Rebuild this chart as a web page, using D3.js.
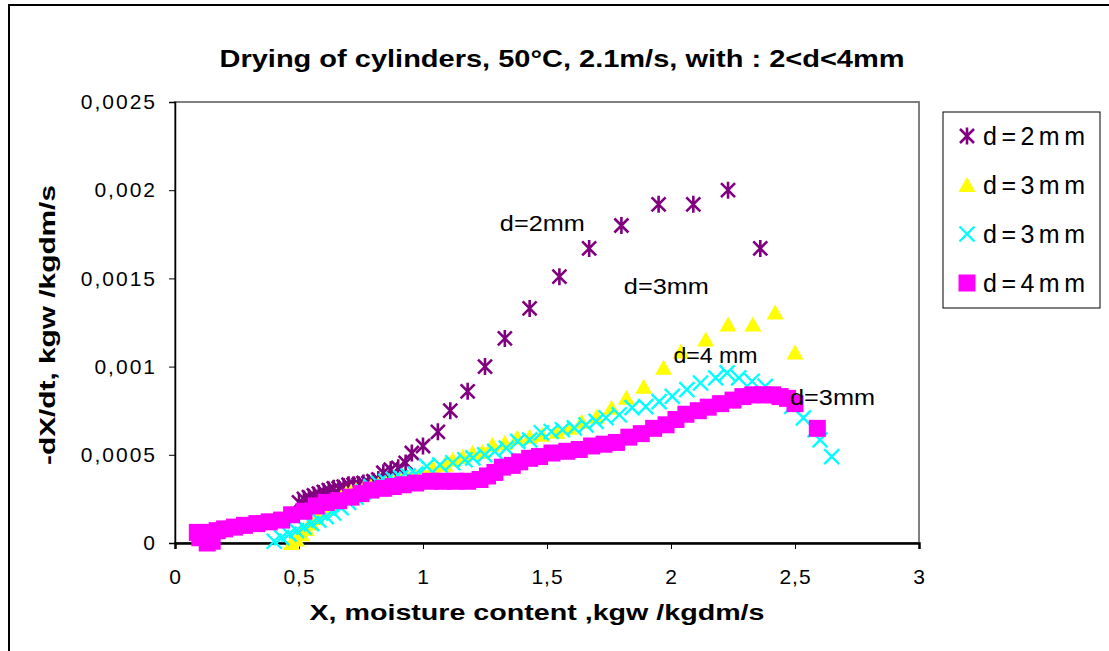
<!DOCTYPE html>
<html lang="en">
<head>
<meta charset="UTF-8">
<title>Drying of cylinders</title>
<script src="https://d3js.org/d3.v7.min.js"></script>
<style>
    body { margin: 0; background: #fff; }
    svg { display: block; font-family: "Liberation Sans", Arial, sans-serif; }
    .axis path, .axis line { stroke: #000; }
    .axis text { font-size: 21px; fill: #000; }
</style>
</head>
<body>
<svg id="chart" width="1109" height="651"></svg>
<script>
// ticks
const xTicks = [0, 0.5, 1, 1.5, 2, 2.5, 3];
const xTickLabels = ["0", "0,5", "1", "1,5", "2", "2,5", "3"];
const yTicks = [0, 0.0005, 0.001, 0.0015, 0.002, 0.0025];
const yTickLabels = ["0", "0,0005", "0,001", "0,0015", "0,002", "0,0025"];

const seriesNames = ["d=2mm", "d=3mm", "d=3mm", "d=4mm"];

// d=2mm (purple stars)
const d2X = [0.50, 0.52, 0.54, 0.56, 0.58, 0.60, 0.62, 0.64, 0.66, 0.68, 0.70, 0.72, 0.74, 0.76, 0.78, 0.80, 0.82,
             0.84, 0.87, 0.90, 0.93, 0.955, 1.00, 1.06, 1.11, 1.18, 1.25, 1.33, 1.43, 1.55, 1.67, 1.80, 1.95, 2.09, 2.23, 2.36];
const d2Y = [0.00023, 0.00025, 0.00026, 0.00027, 0.00028, 0.00029, 0.00030, 0.00031, 0.00031, 0.00032, 0.00033, 0.00033,
             0.00033, 0.00034, 0.00034, 0.00035, 0.00036, 0.000398, 0.000415, 0.000426, 0.000454, 0.00051, 0.00055, 0.00063,
             0.00075, 0.00086, 0.00100, 0.00116, 0.00133, 0.00151, 0.00167, 0.00180, 0.00192, 0.00192, 0.00200, 0.00167];

// d=3mm (yellow triangles)
const d3aX = [0.47, 0.49, 0.51, 0.53, 0.55, 0.57, 0.59, 0.61, 0.63, 0.65, 0.67, 0.69, 0.71, 0.73, 0.76, 0.79, 0.82, 0.85,
              0.88, 0.91, 0.94, 0.97, 1.00, 1.04, 1.088, 1.12, 1.16, 1.20, 1.24, 1.28, 1.33, 1.38, 1.43, 1.48, 1.54, 1.59,
              1.64, 1.70, 1.76, 1.82, 1.89, 1.97, 2.04, 2.14, 2.23, 2.33, 2.42, 2.50];
const d3aY = [0.0, 0.00002, 0.00005, 0.00008, 0.00011, 0.00014, 0.00017, 0.00020, 0.00022, 0.00024, 0.00026, 0.00028,
              0.00029, 0.00030, 0.00031, 0.00032, 0.00033, 0.00034, 0.00035, 0.00036, 0.00037, 0.00038, 0.000398, 0.000426,
              0.000443, 0.000472, 0.000489, 0.000511, 0.000517, 0.000557, 0.000568, 0.000597, 0.000602, 0.000614, 0.000631,
              0.000653, 0.000688, 0.000716, 0.000767, 0.000824, 0.000886, 0.000994, 0.001085, 0.001153, 0.001239, 0.001239,
              0.001307, 0.00108];

// d=3mm (cyan crosses)
const d3bX = [0.40, 0.43, 0.46, 0.49, 0.52, 0.55, 0.58, 0.61, 0.64, 0.67, 0.70, 0.73, 0.76, 0.79, 0.82, 0.85, 0.88, 0.91,
              0.94, 0.97, 1.015, 1.068, 1.12, 1.169, 1.201, 1.249, 1.289, 1.336, 1.382, 1.43, 1.477, 1.517, 1.562, 1.61,
              1.657, 1.698, 1.738, 1.791, 1.843, 1.898, 1.952, 2.005, 2.064, 2.119, 2.18, 2.226, 2.273, 2.327, 2.38, 2.434,
              2.487, 2.534, 2.581, 2.601, 2.648];
const d3bY = [0.00001, 0.00003, 0.00005, 0.00007, 0.00009, 0.00011, 0.00013, 0.00015, 0.00017, 0.00020, 0.00023, 0.00026,
              0.00029, 0.00032, 0.00034, 0.00035, 0.00036, 0.00037, 0.00038, 0.00039, 0.000434, 0.000443, 0.000455, 0.000472,
              0.000483, 0.0005, 0.000519, 0.000538, 0.000576, 0.000585, 0.000625, 0.000632, 0.000642, 0.000653, 0.00067,
              0.000689, 0.00071, 0.000727, 0.000767, 0.000773, 0.000801, 0.000831, 0.000869, 0.000907, 0.000936, 0.000964,
              0.000936, 0.000917, 0.000888, 0.000831, 0.000774, 0.000709, 0.000642, 0.000585, 0.00049];

// d=4mm (magenta squares)
const d4X = [0.09, 0.10, 0.12, 0.13, 0.15, 0.17, 0.20, 0.24, 0.28, 0.33, 0.38, 0.43, 0.47, 0.52, 0.57, 0.61, 0.66, 0.71,
             0.75, 0.79, 0.84, 0.88, 0.92, 0.97, 1.03, 1.08, 1.13, 1.18, 1.23, 1.26, 1.29, 1.32, 1.36, 1.39, 1.43, 1.47,
             1.52, 1.58, 1.63, 1.68, 1.73, 1.78, 1.83, 1.88, 1.93, 1.98, 2.02, 2.06, 2.11, 2.15, 2.20, 2.25, 2.29, 2.33,
             2.37, 2.41, 2.44, 2.47, 2.50, 2.59];
const d4Y = [0.00006, 0.00003, 0.00006, 0.0, 0.00001, 0.00007, 0.00008, 0.00009, 0.00010, 0.00011, 0.00012, 0.00013,
             0.00016, 0.00018, 0.00021, 0.00023, 0.00024, 0.00026, 0.00028, 0.00030, 0.00031, 0.00032, 0.00033, 0.00034,
             0.00035, 0.00035, 0.00035, 0.00035, 0.00036, 0.00038, 0.00040, 0.00043, 0.00044, 0.00046, 0.00048, 0.00049,
             0.00051, 0.00052, 0.00053, 0.00055, 0.00056, 0.00057, 0.00060, 0.00062, 0.00065, 0.00067, 0.00070, 0.00073,
             0.00075, 0.00077, 0.00079, 0.00081, 0.00083, 0.00084, 0.00084, 0.00084, 0.00083, 0.00082, 0.00079, 0.00065];

// labels written next to the curves
const noteText = ["d=2mm", "d=3mm", "d=4 mm", "d=3mm"];
const noteX = [1.31, 1.81, 2.01, 2.48];
const noteY = [0.00177, 0.00141, 0.00102, 0.00078];

const series = [
    { name: seriesNames[0], xs: d2X, ys: d2Y, color: "#800080", marker: "star" },
    { name: seriesNames[1], xs: d3aX, ys: d3aY, color: "#FFFF00", marker: "triangle" },
    { name: seriesNames[2], xs: d3bX, ys: d3bY, color: "#00FFFF", marker: "cross" },
    { name: seriesNames[3], xs: d4X, ys: d4Y, color: "#FF00FF", marker: "square" }
];

const svg = d3.select("#chart");

const x = d3.scaleLinear().domain([0, 3]).range([175, 919]);
const y = d3.scaleLinear().domain([0, 0.0025]).range([543, 102]);

// outer frame
svg.append("path")
    .attr("d", "M9,651 V5 H1109")
    .attr("fill", "none")
    .attr("stroke", "#000")
    .attr("stroke-width", 2);

// plot area border
svg.append("rect")
    .attr("x", x(0)).attr("y", y(0.0025))
    .attr("width", x(3) - x(0)).attr("height", y(0) - y(0.0025))
    .attr("fill", "#fff")
    .attr("stroke", "#808080")
    .attr("stroke-width", 2);

// title
svg.append("text")
    .attr("x", 562).attr("y", 67)
    .attr("text-anchor", "middle")
    .attr("font-size", 24).attr("font-weight", "bold")
    .attr("textLength", 685).attr("lengthAdjust", "spacingAndGlyphs")
    .text("Drying of cylinders,  50°C, 2.1m/s, with : 2<d<4mm");

// axes
const xAxis = d3.axisBottom(x).tickValues(xTicks).tickSize(6).tickPadding(20)
    .tickFormat((d, i) => xTickLabels[i]);
const yAxis = d3.axisLeft(y).tickValues(yTicks).tickSize(6).tickPadding(12)
    .tickFormat((d, i) => yTickLabels[i]);

const gx = svg.append("g").attr("class", "axis")
    .attr("transform", `translate(0,${y(0)})`)
    .call(xAxis);
gx.select(".domain").attr("stroke-width", 2.5);
gx.selectAll("text").attr("font-family", "Liberation Sans, Arial, sans-serif").attr("letter-spacing", 1);

const gy = svg.append("g").attr("class", "axis")
    .attr("transform", `translate(${x(0)},0)`)
    .call(yAxis);
gy.select(".domain").attr("stroke-width", 1.5);
gy.selectAll("text").attr("font-family", "Liberation Sans, Arial, sans-serif").attr("letter-spacing", 2);

// axis titles
svg.append("text")
    .attr("x", 537).attr("y", 620)
    .attr("text-anchor", "middle")
    .attr("font-size", 22).attr("font-weight", "bold")
    .attr("textLength", 455).attr("lengthAdjust", "spacingAndGlyphs")
    .text("X, moisture content ,kgw /kgdm/s");

svg.append("text")
    .attr("transform", "translate(55,325) rotate(-90)")
    .attr("text-anchor", "middle")
    .attr("font-size", 22).attr("font-weight", "bold")
    .attr("textLength", 280).attr("lengthAdjust", "spacingAndGlyphs")
    .text("-dX/dt,  kgw /kgdm/s");

// marker shapes
function drawMarker(g, type, color) {
    if (type === "star") {
        g.append("path")
            .attr("d", "M0,-8.5 V8.5 M-7,-7 L7,7 M-7,7 L7,-7")
            .attr("stroke", color).attr("stroke-width", 2.6).attr("fill", "none");
    } else if (type === "triangle") {
        g.append("path")
            .attr("d", "M0,-8 L8.5,7 L-8.5,7 Z")
            .attr("fill", color);
    } else if (type === "cross") {
        g.append("path")
            .attr("d", "M-7.5,-7.5 L7.5,7.5 M-7.5,7.5 L7.5,-7.5")
            .attr("stroke", color).attr("stroke-width", 2.4).attr("fill", "none");
    } else {
        g.append("rect")
            .attr("x", -8.5).attr("y", -8.5).attr("width", 17).attr("height", 17)
            .attr("fill", color);
    }
}

// points
series.forEach(s => {
    const pts = s.xs.map((v, i) => ({ x: v, y: s.ys[i] }));
    svg.append("g")
        .selectAll("g")
        .data(pts)
        .join("g")
        .attr("transform", d => `translate(${x(d.x)},${y(d.y)})`)
        .each(function() { drawMarker(d3.select(this), s.marker, s.color); });
});

// notes on the plot
noteText.forEach((t, i) => {
    svg.append("text")
        .attr("x", x(noteX[i])).attr("y", y(noteY[i]))
        .attr("font-size", 22)
        .attr("textLength", t === "d=4 mm" ? 84 : 85)
        .attr("lengthAdjust", "spacingAndGlyphs")
        .text(t);
});

// legend
const legend = svg.append("g");
legend.append("rect")
    .attr("x", 943).attr("y", 112).attr("width", 157).attr("height", 196)
    .attr("fill", "#fff").attr("stroke", "#000").attr("stroke-width", 1);

series.forEach((s, i) => {
    const cy = 136 + i * 49;
    const g = legend.append("g").attr("transform", `translate(967,${cy})`);
    drawMarker(g, s.marker, s.color);
    legend.append("text")
        .attr("x", 983).attr("y", cy + 9)
        .attr("font-size", 25)
        .attr("textLength", 102).attr("lengthAdjust", "spacing")
        .text(s.name);
});
</script>
</body>
</html>
